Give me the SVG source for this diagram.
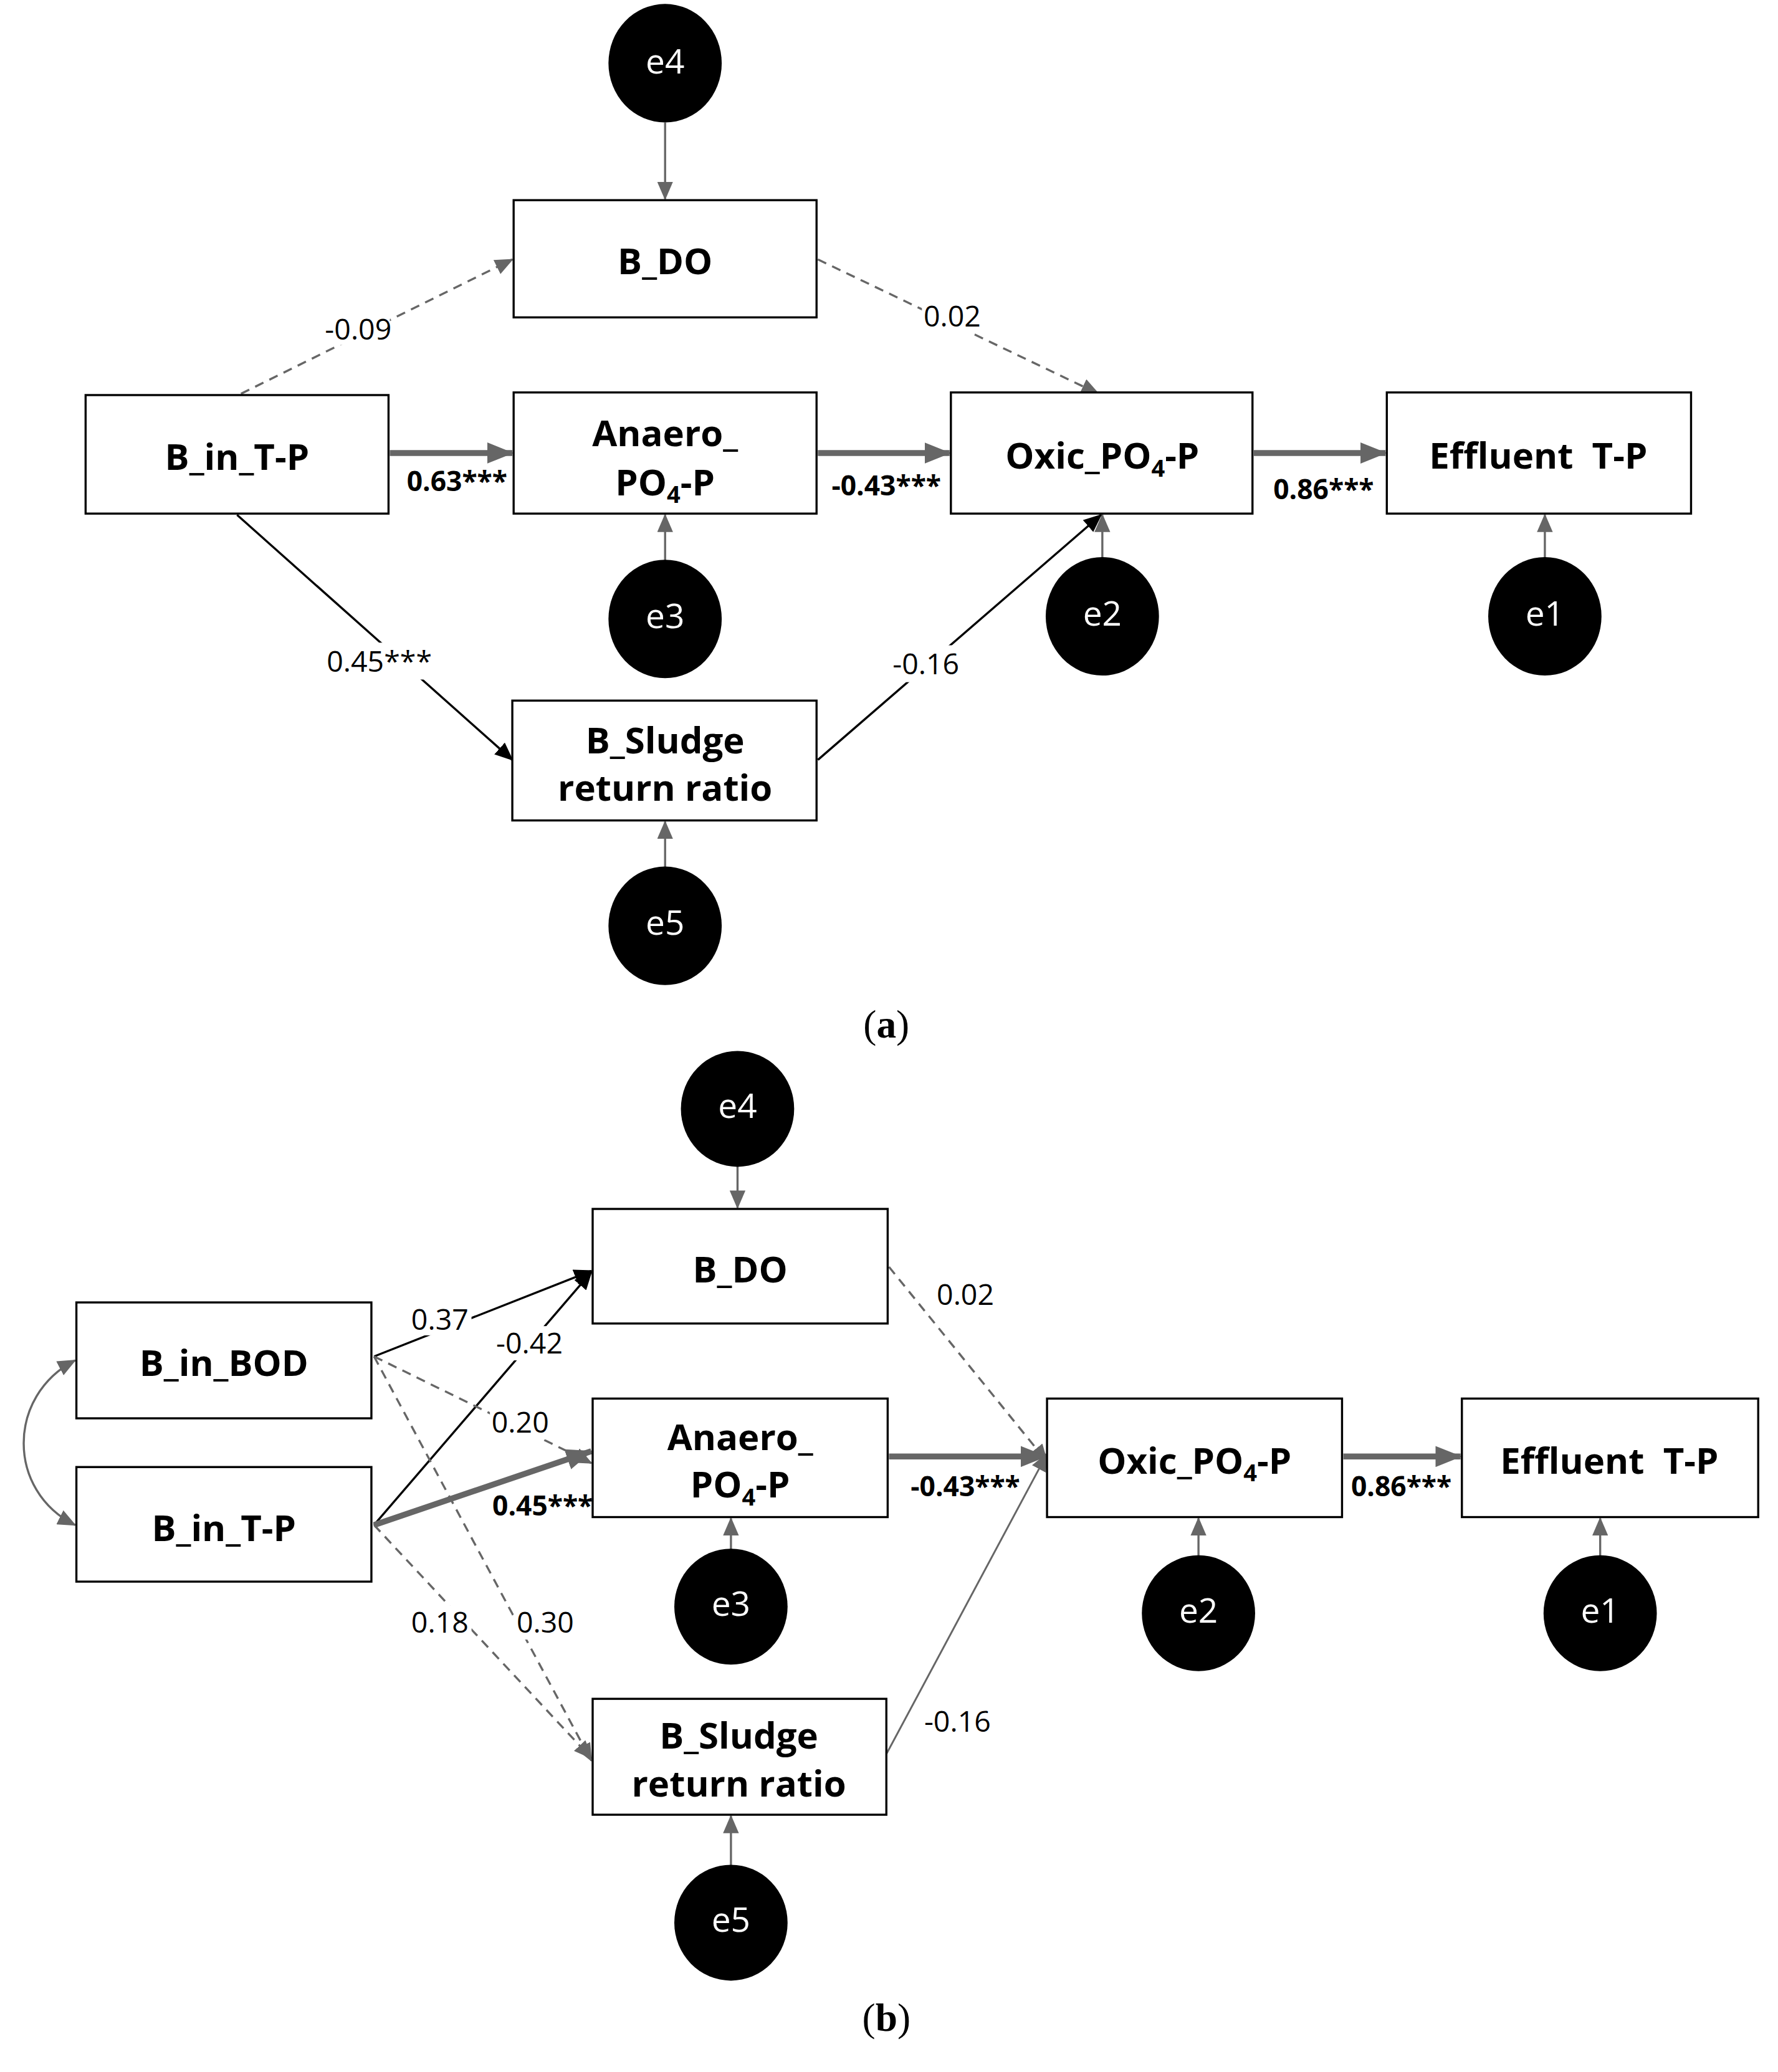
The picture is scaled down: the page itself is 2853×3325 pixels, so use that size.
<svg xmlns="http://www.w3.org/2000/svg" width="2853" height="3325" viewBox="0 0 2853 3325">
<style>
.box{fill:#fff;stroke:#000;stroke-width:1.6}
.lbl{font-family:"Open Sans","Noto Sans CJK KR",sans-serif;font-weight:bold;font-size:27.5px;text-anchor:middle;fill:#000}
.err{fill:#000}
.et{font-family:"Open Sans","Noto Sans CJK KR",sans-serif;font-size:26px;fill:#fff;text-anchor:middle}
.num{font-family:"Open Sans","Noto Sans CJK KR",sans-serif;font-size:22px;fill:#000;text-anchor:middle}
.bnum{font-family:"Open Sans","Noto Sans CJK KR",sans-serif;font-size:21px;font-weight:bold;fill:#000;text-anchor:middle}
.cap{font-family:"Liberation Serif",serif;font-size:30px;fill:#000;text-anchor:middle}
.g{stroke:#666;stroke-width:1.6;fill:none;marker-end:url(#ag)}
.gd{stroke:#666;stroke-width:1.6;fill:none;stroke-dasharray:7,5;marker-end:url(#ag)}
.k{stroke:#000;stroke-width:1.6;fill:none;marker-end:url(#ak)}
.t{stroke:#666;stroke-width:4.5;fill:none;marker-end:url(#at)}
.gt{stroke:#666;stroke-width:1.4;fill:none;marker-end:url(#ag)}
</style>
<defs>
<marker id="ag" markerUnits="userSpaceOnUse" markerWidth="14" markerHeight="12" refX="13" refY="6" orient="auto"><path d="M0,0 L14,6 L0,12 Z" fill="#666"/></marker>
<marker id="ags" markerUnits="userSpaceOnUse" markerWidth="14" markerHeight="12" refX="1" refY="6" orient="auto"><path d="M14,0 L0,6 L14,12 Z" fill="#666"/></marker>
<marker id="ak" markerUnits="userSpaceOnUse" markerWidth="14" markerHeight="12" refX="13" refY="6" orient="auto"><path d="M0,0 L14,6 L0,12 Z" fill="#000"/></marker>
<marker id="at" markerUnits="userSpaceOnUse" markerWidth="20" markerHeight="16" refX="19" refY="8" orient="auto"><path d="M0,0 L20,8 L0,16 Z" fill="#666"/></marker>
</defs>
<rect width="2853" height="3325" fill="#fff"/>
<g transform="scale(2.1133)">
<g id="connectors">
<line class="g" x1="505" y1="93" x2="505" y2="151"/>
<line class="gd" x1="183" y1="299" x2="389" y2="197"/>
<line class="gd" x1="621" y1="197" x2="834" y2="299"/>
<line class="t" x1="296" y1="344" x2="389" y2="344"/>
<line class="t" x1="621" y1="344" x2="721" y2="344"/>
<line class="t" x1="952" y1="344" x2="1052" y2="344"/>
<line class="g" x1="505" y1="426" x2="505" y2="391"/>
<line class="g" x1="837" y1="425" x2="837" y2="391"/>
<line class="g" x1="1173" y1="425" x2="1173" y2="391"/>
<line class="k" x1="180" y1="391" x2="389" y2="577"/>
<line class="k" x1="621" y1="577" x2="836" y2="391"/>
<line class="g" x1="505" y1="660" x2="505" y2="624"/>
<line class="g" x1="560" y1="885" x2="560" y2="917"/>
<line class="k" x1="284" y1="1030" x2="449" y2="965"/>
<line class="k" x1="284" y1="1158" x2="449" y2="966"/>
<line class="gd" x1="284" y1="1030" x2="449" y2="1111"/>
<line class="t" x1="284" y1="1158" x2="449" y2="1102"/>
<line class="gd" x1="284" y1="1158" x2="449" y2="1335"/>
<line class="gd" x1="284" y1="1030" x2="449" y2="1337"/>
<line class="gd" x1="675" y1="962" x2="795" y2="1110"/>
<line class="t" x1="675" y1="1106" x2="794" y2="1106"/>
<line class="gt" x1="673" y1="1332" x2="795" y2="1104"/>
<line class="t" x1="1020" y1="1106" x2="1109" y2="1106"/>
<line class="g" x1="555" y1="1178" x2="555" y2="1153"/>
<line class="g" x1="910" y1="1183" x2="910" y2="1153"/>
<line class="g" x1="1215" y1="1183" x2="1215" y2="1153"/>
<line class="g" x1="555" y1="1417" x2="555" y2="1379"/>
<path d="M57,1033 C5,1060 5,1132 57,1158" stroke="#666" stroke-width="1.6" fill="none" marker-start="url(#ags)" marker-end="url(#ag)"/>
<rect x="248" y="236" width="48" height="26" fill="#fff"/>
<text class="num" x="272" y="258">-0.09</text>
<rect x="700" y="227" width="46" height="26" fill="#fff"/>
<text class="num" x="723" y="248">0.02</text>
<text class="bnum" x="347" y="373">0.63***</text>
<text class="bnum" x="673" y="376">-0.43***</text>
<text class="bnum" x="1005" y="379">0.86***</text>
<rect x="241" y="488" width="94" height="28" fill="#fff"/>
<text class="num" x="288" y="510">0.45***</text>
<rect x="673" y="490" width="60" height="28" fill="#fff"/>
<text class="num" x="703" y="512">-0.16</text>
<rect x="310" y="988" width="48" height="26" fill="#fff"/>
<text class="num" x="334" y="1010">0.37</text>
<rect x="375" y="1007" width="54" height="26" fill="#fff"/>
<text class="num" x="402" y="1028">-0.42</text>
<rect x="372" y="1067" width="48" height="26" fill="#fff"/>
<text class="num" x="395" y="1088">0.20</text>
<text class="bnum" x="412" y="1151">0.45***</text>
<rect x="310" y="1219" width="48" height="26" fill="#fff"/>
<text class="num" x="334" y="1240">0.18</text>
<rect x="390" y="1219" width="48" height="26" fill="#fff"/>
<text class="num" x="414" y="1240">0.30</text>
<text class="num" x="733" y="991">0.02</text>
<text class="bnum" x="733" y="1136">-0.43***</text>
<text class="num" x="727" y="1315">-0.16</text>
<text class="bnum" x="1064" y="1136">0.86***</text>
</g>
<g id="a_e4"><ellipse class="err" cx="505" cy="48" rx="43" ry="45"/><text class="et" x="505" y="56">e4</text></g>
<g id="a_BDO"><rect class="box" x="390" y="152" width="230" height="89"/><text class="lbl" x="505" y="208">B_DO</text></g>
<g id="a_BinTP"><rect class="box" x="65" y="300" width="230" height="90"/><text class="lbl" x="180" y="357">B_in_T-P</text></g>
<g id="a_Anaero"><rect class="box" x="390" y="298" width="230" height="92"/><text class="lbl" x="505" y="339">Anaero_</text><text class="lbl" x="505" y="376">PO<tspan font-size="18" dy="6">4</tspan><tspan dy="-6">-P</tspan></text></g>
<g id="a_Oxic"><rect class="box" x="722" y="298" width="229" height="92"/><text class="lbl" x="837" y="356">Oxic_PO<tspan font-size="18" dy="6">4</tspan><tspan dy="-6">-P</tspan></text></g>
<g id="a_Eff"><rect class="box" x="1053" y="298" width="231" height="92"/><text class="lbl" x="1168" y="356" xml:space="preserve">Effluent  T-P</text></g>
<g id="a_e3"><ellipse class="err" cx="505" cy="470" rx="43" ry="45"/><text class="et" x="505" y="477">e3</text></g>
<g id="a_e2"><ellipse class="err" cx="837" cy="468" rx="43" ry="45"/><text class="et" x="837" y="475">e2</text></g>
<g id="a_e1"><ellipse class="err" cx="1173" cy="468" rx="43" ry="45"/><text class="et" x="1173" y="475">e1</text></g>
<g id="a_Sludge"><rect class="box" x="389" y="532" width="231" height="91"/><text class="lbl" x="505" y="572">B_Sludge</text><text class="lbl" x="505" y="608">return ratio</text></g>
<g id="a_e5"><ellipse class="err" cx="505" cy="703" rx="43" ry="45"/><text class="et" x="505" y="710">e5</text></g>
<text class="cap" x="673" y="788">(<tspan font-weight="bold">a</tspan>)</text>
<g id="b_e4"><ellipse class="err" cx="560" cy="842" rx="43" ry="44"/><text class="et" x="560" y="849">e4</text></g>
<g id="b_BDO"><rect class="box" x="450" y="918" width="224" height="87"/><text class="lbl" x="562" y="974">B_DO</text></g>
<g id="b_BOD"><rect class="box" x="58" y="989" width="224" height="88"/><text class="lbl" x="170" y="1045">B_in_BOD</text></g>
<g id="b_BinTP"><rect class="box" x="58" y="1114" width="224" height="87"/><text class="lbl" x="170" y="1170">B_in_T-P</text></g>
<g id="b_Anaero"><rect class="box" x="450" y="1062" width="224" height="90"/><text class="lbl" x="562" y="1101">Anaero_</text><text class="lbl" x="562" y="1137">PO<tspan font-size="18" dy="6">4</tspan><tspan dy="-6">-P</tspan></text></g>
<g id="b_Oxic"><rect class="box" x="795" y="1062" width="224" height="90"/><text class="lbl" x="907" y="1119">Oxic_PO<tspan font-size="18" dy="6">4</tspan><tspan dy="-6">-P</tspan></text></g>
<g id="b_Eff"><rect class="box" x="1110" y="1062" width="225" height="90"/><text class="lbl" x="1222" y="1119" xml:space="preserve">Effluent  T-P</text></g>
<g id="b_e3"><ellipse class="err" cx="555" cy="1220" rx="43" ry="44"/><text class="et" x="555" y="1227">e3</text></g>
<g id="b_e2"><ellipse class="err" cx="910" cy="1225" rx="43" ry="44"/><text class="et" x="910" y="1232">e2</text></g>
<g id="b_e1"><ellipse class="err" cx="1215" cy="1225" rx="43" ry="44"/><text class="et" x="1215" y="1232">e1</text></g>
<g id="b_Sludge"><rect class="box" x="450" y="1290" width="223" height="88"/><text class="lbl" x="561" y="1328">B_Sludge</text><text class="lbl" x="561" y="1364">return ratio</text></g>
<g id="b_e5"><ellipse class="err" cx="555" cy="1460" rx="43" ry="44"/><text class="et" x="555" y="1467">e5</text></g>
<text class="cap" x="673" y="1542">(<tspan font-weight="bold">b</tspan>)</text>
</g>
</svg>
